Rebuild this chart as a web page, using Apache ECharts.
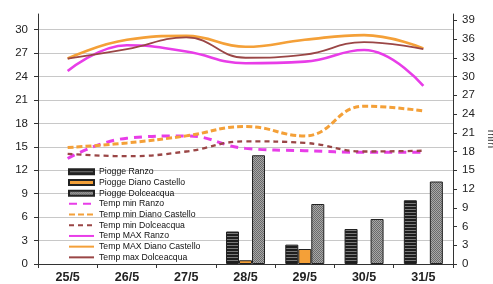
<!DOCTYPE html>
<html><head><meta charset="utf-8">
<script src="https://cdn.jsdelivr.net/npm/echarts@6/dist/echarts.min.js"></script>
<style>html,body{margin:0;padding:0;background:#fff}#c{width:493px;height:284px}</style>
</head><body><div id="c"></div>
<script>
const categories = ['25/5','26/5','27/5','28/5','29/5','30/5','31/5'];
const pioggeRanzo = [0,0,0,5.2,3.1,5.6,10.2];
const pioggeDiano = [0,0,0,0.6,2.4,0,0];
const pioggeDolce = [0,0,0,17.4,9.6,7.2,13.2];
const tminRanzo = [13.5,16.1,16.4,14.8,14.5,14.3,14.3];
const tminDiano = [14.9,15.5,16.4,17.6,16.4,20.2,19.6];
const tminDolce = [14.1,13.8,14.4,15.7,15.5,14.4,14.5];
const tmaxRanzo = [24.7,28.0,27.2,25.7,25.9,27.4,22.8];
const tmaxDiano = [26.3,28.7,29.2,27.8,28.7,29.3,27.6];
const tmaxDolce = [26.3,27.5,29.0,26.4,26.8,28.4,27.5];
const leftTicks = {min:0,max:32,interval:3};
const rightTicks = {min:0,max:40,interval:3};

function stripes(){
  const c=document.createElement('canvas');c.width=4;c.height=3;
  const g=c.getContext('2d');g.fillStyle='#7a7a7a';g.fillRect(0,0,4,3);
  g.fillStyle='#1e1e1e';g.fillRect(0,0,4,2);return c;
}
function dots(){
  const c=document.createElement('canvas');c.width=2;c.height=2;
  const g=c.getContext('2d');g.fillStyle='#a8a8a8';g.fillRect(0,0,2,2);
  g.fillStyle='#6a6a6a';g.fillRect(0,0,1,1);g.fillRect(1,1,1,1);return c;
}
const MAG='#e83de8', ORA='#f4a038', BRN='#9a4646';
const chart=echarts.init(document.getElementById('c'),null,{renderer:'canvas'});
const font='Liberation Sans';
function bar(name,data,color){
  return {name,type:'bar',yAxisIndex:1,data:data.map(v=>v===0?null:v),barWidth:13,barGap:'0%',z:1,
    itemStyle:{color,borderColor:'#222',borderWidth:1}};
}
function line(name,data,color,w,type){
  return {name,type:'line',data,smooth:0.45,symbol:'none',z:3,
    lineStyle:{color,width:w,type},itemStyle:{color}};
}
const lineNames=['Temp min Ranzo','Temp min Diano Castello','Temp min Dolceacqua','Temp MAX Ranzo','Temp MAX Diano Castello','Temp max Dolceacqua'];
chart.setOption({
  animation:false,
  textStyle:{fontFamily:font},
  grid:{left:38,right:40,top:14,bottom:20,outerBoundsMode:'none',containLabel:false},
  legend:{orient:'vertical',left:63,top:162,itemWidth:25,itemHeight:5,itemGap:1.2,
    textStyle:{fontFamily:font,fontSize:8.7,color:'#111',lineHeight:9.5},
    data:[
      {name:'Piogge Ranzo',icon:'rect'},{name:'Piogge Diano Castello',icon:'rect'},{name:'Piogge Dolceacqua',icon:'rect'}]
      .concat(lineNames.map(n=>({name:n,itemStyle:{color:'rgba(0,0,0,0)',borderWidth:0,opacity:0}})))},
  xAxis:{type:'category',data:categories,boundaryGap:true,
    axisLine:{lineStyle:{color:'#333',width:1}},
    axisTick:{show:true,length:4,lineStyle:{color:'#333'}},
    axisLabel:{fontFamily:font,fontSize:12.5,fontWeight:'bold',color:'#222',margin:7}},
  yAxis:[
    {type:'value',min:leftTicks.min,max:leftTicks.max,interval:leftTicks.interval,
     name:'°C',nameLocation:'middle',nameRotate:90,nameGap:40,nameTextStyle:{fontSize:11,color:'#333'},
     axisLine:{show:true,lineStyle:{color:'#333'}},axisTick:{show:true,length:4,lineStyle:{color:'#333'}},
     axisLabel:{fontFamily:font,fontSize:11.5,color:'#222',margin:10,showMaxLabel:false},
     splitLine:{show:true,showMaxLine:false,lineStyle:{color:'#c8c8c8',width:1}}},
    {type:'value',min:rightTicks.min,max:rightTicks.max,interval:rightTicks.interval,position:'right',
     name:'mm',nameLocation:'middle',nameRotate:-90,nameGap:33,nameTextStyle:{fontSize:11,color:'#333'},
     axisLine:{show:true,lineStyle:{color:'#333'}},axisTick:{show:true,length:4,lineStyle:{color:'#333'}},
     axisLabel:{fontFamily:font,fontSize:11.5,color:'#222',margin:9,showMaxLabel:false},
     splitLine:{show:false}}
  ],
  series:[
    bar('Piogge Ranzo',pioggeRanzo,{image:stripes(),repeat:'repeat'}),
    bar('Piogge Diano Castello',pioggeDiano,ORA),
    bar('Piogge Dolceacqua',pioggeDolce,{image:dots(),repeat:'repeat'}),
    line(lineNames[0],tminRanzo,MAG,3,[8,6]),
    line(lineNames[1],tminDiano,ORA,3,[6,3]),
    line(lineNames[2],tminDolce,BRN,2.3,[5,4]),
    line(lineNames[3],tmaxRanzo,MAG,2.6,'solid'),
    line(lineNames[4],tmaxDiano,ORA,2.6,'solid'),
    line(lineNames[5],tmaxDolce,BRN,1.8,'solid')
  ]
});
</script></body></html>
